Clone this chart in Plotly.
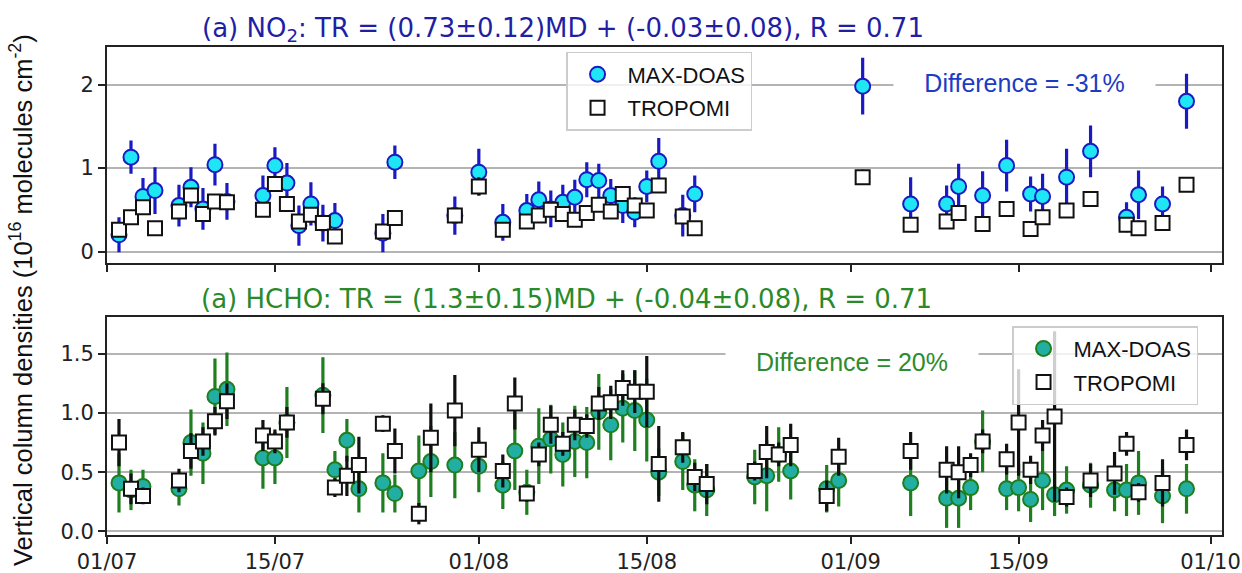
import plotly.graph_objects as go

YEAR = "2019"

# ---------------- NO2 panel data (10^16 molecules cm^-2) ----------------
no2_dates = ["07-02", "07-03", "07-04", "07-05", "07-07", "07-08", "07-09", "07-10", "07-11",
             "07-14", "07-15", "07-16", "07-17", "07-18", "07-19", "07-20", "07-24", "07-25",
             "07-30", "08-01", "08-03", "08-05", "08-06", "08-07", "08-08", "08-09", "08-10",
             "08-11", "08-12", "08-13", "08-14", "08-15", "08-16", "08-18", "08-19", "09-02",
             "09-06", "09-09", "09-10", "09-12", "09-14", "09-16", "09-17", "09-19", "09-21",
             "09-24", "09-25", "09-27", "09-29"]
no2_md = [0.20, 1.13, 0.66, 0.73, 0.55, 0.77, 0.51, 1.04, 0.60,
          0.67, 1.03, 0.82, 0.31, 0.57, 0.34, 0.37, 0.22, 1.07,
          0.43, 0.95, 0.35, 0.49, 0.62, 0.51, 0.59, 0.65, 0.86,
          0.85, 0.67, 0.55, 0.47, 0.78, 1.08, 0.43, 0.69, 1.98,
          0.57, 0.57, 0.78, 0.67, 1.03, 0.69, 0.66, 0.89, 1.20,
          0.41, 0.68, 0.57, 1.80]
no2_md_err = [0.21, 0.20, 0.22, 0.28, 0.25, 0.24, 0.25, 0.25, 0.22,
              0.24, 0.22, 0.24, 0.24, 0.26, 0.22, 0.21, 0.23, 0.20,
              0.23, 0.28, 0.22, 0.20, 0.22, 0.22, 0.21, 0.21, 0.21,
              0.20, 0.20, 0.21, 0.18, 0.19, 0.28, 0.25, 0.22, 0.34,
              0.32, 0.22, 0.27, 0.29, 0.31, 0.21, 0.27, 0.34, 0.31,
              0.18, 0.29, 0.21, 0.33]
no2_tr = [0.26, 0.41, 0.53, 0.28, 0.48, 0.67, 0.45, 0.60, 0.59,
          0.50, 0.81, 0.57, 0.36, 0.44, 0.34, 0.18, 0.24, 0.40,
          0.43, 0.78, 0.26, 0.36, 0.43, 0.50, 0.45, 0.38, 0.46,
          0.56, 0.48, 0.69, 0.55, 0.49, 0.79, 0.42, 0.28, 0.89,
          0.32, 0.36, 0.46, 0.33, 0.51, 0.27, 0.41, 0.49, 0.63,
          0.32, 0.28, 0.34, 0.80]
no2_tr_err = [0.06, 0.05, 0.06, 0.05, 0.05, 0.08, 0.05, 0.05, 0.05,
              0.05, 0.05, 0.05, 0.05, 0.05, 0.05, 0.05, 0.05, 0.05,
              0.05, 0.11, 0.05, 0.05, 0.05, 0.05, 0.05, 0.05, 0.05,
              0.05, 0.05, 0.05, 0.05, 0.07, 0.05, 0.05, 0.05, 0.09,
              0.05, 0.05, 0.05, 0.05, 0.05, 0.05, 0.05, 0.05, 0.05,
              0.05, 0.09, 0.05, 0.05]

# ---------------- HCHO panel data (10^16 molecules cm^-2) ----------------
hcho_dates = ["07-02", "07-03", "07-04", "07-07", "07-08", "07-09", "07-10", "07-11", "07-14",
              "07-15", "07-16", "07-19", "07-20", "07-21", "07-22", "07-24", "07-25", "07-27",
              "07-28", "07-30", "08-01", "08-03", "08-04", "08-05", "08-06", "08-07", "08-08",
              "08-09", "08-10", "08-11", "08-12", "08-13", "08-14", "08-15", "08-16", "08-18",
              "08-19", "08-20", "08-24", "08-25", "08-26", "08-27", "08-30", "08-31", "09-06",
              "09-09", "09-10", "09-11", "09-12", "09-14", "09-15", "09-16", "09-17", "09-18",
              "09-19", "09-21", "09-23", "09-24", "09-25", "09-27", "09-29"]
hcho_md = [0.41, 0.35, 0.38, 0.36, 0.75, 0.66, 1.14, 1.20, 0.62,
           0.62, 0.92, 1.15, 0.52, 0.77, 0.36, 0.41, 0.32, 0.51,
           0.59, 0.56, 0.55, 0.39, 0.68, 0.33, 0.72, 0.78, 0.65,
           0.76, 0.75, 1.01, 0.90, 1.04, 1.02, 0.94, 0.50, 0.59,
           0.39, 0.35, 0.46, 0.47, 0.65, 0.51, 0.36, 0.43, 0.41,
           0.28, 0.28, 0.37, 0.76, 0.36, 0.37, 0.27, 0.43, 0.31,
           0.35, 0.39, 0.35, 0.35, 0.41, 0.30, 0.36]
hcho_md_err = [0.25, 0.17, 0.14, 0.14, 0.28, 0.26, 0.32, 0.31, 0.26,
               0.22, 0.30, 0.32, 0.16, 0.18, 0.20, 0.25, 0.16, 0.30,
               0.30, 0.28, 0.22, 0.20, 0.33, 0.19, 0.32, 0.29, 0.27,
               0.30, 0.30, 0.32, 0.30, 0.29, 0.34, 0.35, 0.20, 0.24,
               0.22, 0.22, 0.23, 0.30, 0.23, 0.24, 0.20, 0.22, 0.28,
               0.25, 0.25, 0.19, 0.26, 0.18, 0.20, 0.19, 0.25, 0.18,
               0.20, 0.19, 0.18, 0.22, 0.27, 0.23, 0.21]
hcho_tr = [0.75, 0.36, 0.30, 0.43, 0.68, 0.76, 0.93, 1.10, 0.81,
           0.76, 0.92, 1.12, 0.37, 0.47, 0.56, 0.91, 0.68, 0.15,
           0.79, 1.02, 0.69, 0.51, 1.08, 0.32, 0.65, 0.90, 0.74,
           0.90, 0.89, 1.08, 1.09, 1.21, 1.18, 1.18, 0.57, 0.71,
           0.46, 0.40, 0.51, 0.67, 0.65, 0.73, 0.30, 0.63, 0.68,
           0.52, 0.50, 0.56, 0.76, 0.61, 0.92, 0.52, 0.81, 0.97,
           0.29, 0.43, 0.49, 0.74, 0.33, 0.41, 0.73]
hcho_tr_err = [0.20, 0.13, 0.07, 0.10, 0.15, 0.12, 0.12, 0.15, 0.13,
               0.10, 0.13, 0.13, 0.08, 0.17, 0.24, 0.07, 0.19, 0.09,
               0.29, 0.30, 0.19, 0.14, 0.22, 0.07, 0.10, 0.16, 0.10,
               0.13, 0.10, 0.14, 0.14, 0.15, 0.18, 0.30, 0.32, 0.13,
               0.12, 0.17, 0.08, 0.22, 0.10, 0.18, 0.13, 0.16, 0.16,
               0.20, 0.22, 0.10, 0.10, 0.13, 0.45, 0.12, 0.13, 0.72,
               0.08, 0.14, 0.18, 0.10, 0.08, 0.20, 0.13]

tick_dates = ["07-01", "07-15", "08-01", "08-15", "09-01", "09-15", "10-01"]
tick_labels = ["01/07", "15/07", "01/08", "15/08", "01/09", "15/09", "01/10"]
no2_yticks = [0, 1, 2]
hcho_yticks = [0.0, 0.5, 1.0, 1.5]
hcho_yticklabels = ["0.0", "0.5", "1.0", "1.5"]


def to_dates(md_list):
    return [f"{YEAR}-{d}" for d in md_list]


CYAN = "#1ee6f4"
BLUE = "#1a1ac4"
TEAL = "#23aea4"
GREEN = "#1f7f1f"
BLACK = "#111111"

fig = go.Figure()

# --- NO2 ---
fig.add_trace(go.Scatter(
    x=to_dates(no2_dates), y=no2_md, name="MAX-DOAS", mode="markers",
    marker=dict(symbol="circle", size=15, color=CYAN, line=dict(color=BLUE, width=2)),
    error_y=dict(type="data", array=no2_md_err, color=BLUE, thickness=3.2, width=0),
    xaxis="x", yaxis="y", legend="legend", legendgroup="a"))
fig.add_trace(go.Scatter(
    x=to_dates(no2_dates), y=no2_tr, name="TROPOMI", mode="markers",
    marker=dict(symbol="square", size=14, color="white", line=dict(color=BLACK, width=2)),
    error_y=dict(type="data", array=no2_tr_err, color=BLACK, thickness=3.2, width=0),
    xaxis="x", yaxis="y", legend="legend", legendgroup="b"))

# --- HCHO ---
fig.add_trace(go.Scatter(
    x=to_dates(hcho_dates), y=hcho_md, name="MAX-DOAS", mode="markers",
    marker=dict(symbol="circle", size=15, color=TEAL, line=dict(color=GREEN, width=2)),
    error_y=dict(type="data", array=hcho_md_err, color=GREEN, thickness=3.2, width=0),
    xaxis="x2", yaxis="y2", legend="legend2", legendgroup="c"))
fig.add_trace(go.Scatter(
    x=to_dates(hcho_dates), y=hcho_tr, name="TROPOMI", mode="markers",
    marker=dict(symbol="square", size=14, color="white", line=dict(color=BLACK, width=2)),
    error_y=dict(type="data", array=hcho_tr_err, color=BLACK, thickness=3.2, width=0),
    xaxis="x2", yaxis="y2", legend="legend2", legendgroup="d"))

xrange = [f"{YEAR}-07-01", f"{YEAR}-10-01 23:00"]
tickfont = dict(family="DejaVu Sans", size=21, color="#222222")
common_x = dict(type="date", range=xrange, tickvals=to_dates(tick_dates), ticktext=tick_labels,
                ticks="outside", ticklen=7, tickwidth=1.5, tickcolor="#222222",
                showline=True, mirror=True, linecolor="#222222", linewidth=2,
                showgrid=False, zeroline=False, tickfont=tickfont, automargin=False)
common_y = dict(ticks="outside", ticklen=7, tickwidth=1.5, tickcolor="#222222",
                showline=True, mirror=True, linecolor="#222222", linewidth=2,
                showgrid=True, gridcolor="#b4b4b4", gridwidth=1.5, zeroline=False,
                tickfont=tickfont, automargin=False)

TOP_DOM = [0.557, 1.0]
BOT_DOM = [0.0, 0.4457]

fig.update_layout(
    width=1242, height=573,
    margin=dict(l=107, r=20, t=47, b=38),
    paper_bgcolor="white", plot_bgcolor="white",
    font=dict(family="DejaVu Sans", color="#222222"),
    xaxis=dict(common_x, domain=[0, 1], anchor="y", showticklabels=False),
    yaxis=dict(common_y, domain=TOP_DOM, anchor="x", range=[-0.14, 2.45], tickvals=no2_yticks),
    xaxis2=dict(common_x, domain=[0, 1], anchor="y2", matches="x"),
    yaxis2=dict(common_y, domain=BOT_DOM, anchor="x2", range=[-0.03, 1.806],
                tickvals=hcho_yticks, ticktext=hcho_yticklabels),
    legend=dict(x=0.4117, y=0.99, xanchor="left", yanchor="top",
                bgcolor="rgba(255,255,255,0.8)", bordercolor="#cccccc", borderwidth=1.5,
                font=dict(family="Liberation Sans", size=22, color="#111111"),
                itemwidth=50, traceorder="grouped", tracegroupgap=2),
    legend2=dict(x=0.8117, y=0.428, xanchor="left", yanchor="top",
                 bgcolor="rgba(255,255,255,0.8)", bordercolor="#cccccc", borderwidth=1.5,
                 font=dict(family="Liberation Sans", size=22, color="#111111"),
                 itemwidth=50, traceorder="grouped", tracegroupgap=2),
    showlegend=True,
)

annotations = [
    dict(text="(a) NO<sub>2</sub>: TR = (0.73±0.12)MD + (-0.03±0.08), R = 0.71",
         xref="paper", yref="paper", x=(563 - 107) / 1115, y=(535 - 29) / 488,
         xanchor="center", yanchor="middle", showarrow=False,
         font=dict(family="DejaVu Sans", size=26, color="#1f1fa5")),
    dict(text="(a) HCHO: TR = (1.3±0.15)MD + (-0.04±0.08), R = 0.71",
         xref="paper", yref="paper", x=(566 - 107) / 1115, y=(535 - 299) / 488,
         xanchor="center", yanchor="middle", showarrow=False,
         font=dict(family="DejaVu Sans", size=26, color="#2a8a2a")),
    dict(text="Difference = -31%",
         xref="paper", yref="paper", x=(1024 - 107) / 1115, y=(535 - 83) / 488,
         xanchor="center", yanchor="middle", showarrow=False, bgcolor="white",
         width=259, height=28,
         font=dict(family="Liberation Sans", size=25, color="#1c3cc4")),
    dict(text="Difference = 20%",
         xref="paper", yref="paper", x=(852 - 107) / 1115, y=(535 - 362) / 488,
         xanchor="center", yanchor="middle", showarrow=False, bgcolor="white",
         width=250, height=28,
         font=dict(family="Liberation Sans", size=25, color="#2e8b2e")),
    dict(text="Vertical column densities (10<sup>16</sup> molecules cm<sup>-2</sup>)",
         xref="paper", yref="paper", x=(21 - 107) / 1115, y=(535 - 300) / 488,
         xanchor="center", yanchor="middle", showarrow=False, textangle=-90,
         font=dict(family="Liberation Sans", size=25.5, color="#111111")),
]
fig.update_layout(annotations=annotations)

fig.write_html(
    "out.html",
    include_plotlyjs=True,
    config={"displayModeBar": False},
    post_script="document.body.style.margin='0';document.body.style.padding='0';",
)
